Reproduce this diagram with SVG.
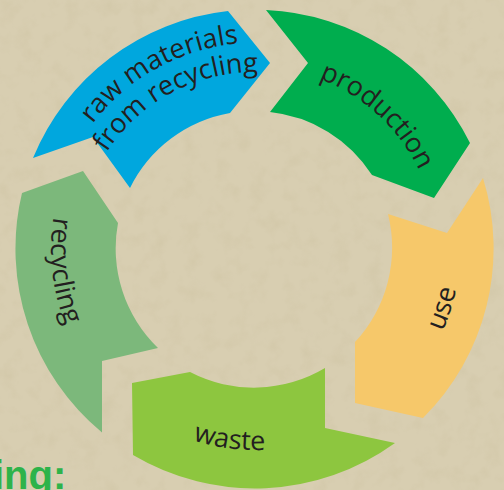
<svg xmlns="http://www.w3.org/2000/svg" width="504" height="490" viewBox="0 0 504 490">
<defs>
<style>
.lbl{font-family:"Open Sans","Noto Sans","Liberation Sans",sans-serif;font-size:27px;fill:#231f20;}
</style>
<filter id="paper" x="0" y="0" width="100%" height="100%">
<feTurbulence type="fractalNoise" baseFrequency="0.06" numOctaves="3" seed="4" result="n"/>
<feColorMatrix in="n" type="matrix" values="0 0 0 0 0.55  0 0 0 0 0.48  0 0 0 0 0.3  0 0 0 -1.4 0.75" result="c"/>
<feComposite in="c" in2="SourceGraphic" operator="in"/>
</filter>
<path id="p-raw1" d="M62.4,178.9 A207,207 0 0 1 301.1,47.3"/>
<path id="p-raw2" d="M88.6,188.4 A177,177 0 0 1 297.8,77.3"/>
<path id="p-prod" d="M255,67 A182,182 0 0 1 436.3,233.1"/>
<path id="p-use" d="M357.5,426.5 A205,205 0 0 0 440.8,162.4"/>
<path id="p-waste" d="M101,378.2 A201,201 0 0 0 370.3,413.7"/>
<path id="p-rec" d="M87.9,132 A204,204 0 0 0 118.5,400.6"/>
</defs>
<rect width="504" height="490" fill="#d8ceb1"/>
<rect width="504" height="490" fill="#d8ceb1" filter="url(#paper)" opacity="0.35"/>
<g id="connectors"/>
<g id="recycling">
<path d="M102,432.6 L102,361 L158,348 A138.5,138.5 0 0 1 118,223 L83,171 L22,193 A239,239 0 0 0 102,432.6 Z" fill="#7cb87b"/>
<text class="lbl"><textPath href="#p-rec" startOffset="50%" text-anchor="middle">recycling</textPath></text>
</g>
<g id="raw-materials">
<path d="M33,158 L93,137 L130,188 A138.5,138.5 0 0 1 230,113 L270,63 L228,11 A239,239 0 0 0 33,158 Z" fill="#00a7de"/>
<text class="lbl"><textPath href="#p-raw1" startOffset="50%" text-anchor="middle">raw materials</textPath></text>
<text class="lbl"><textPath href="#p-raw2" startOffset="50%" text-anchor="middle">from recycling</textPath></text>
</g>
<g id="production">
<path d="M266,10 L308,63 L270,112 A138.5,138.5 0 0 1 372,175 L434,198 L470,143 A239,239 0 0 0 266,10 Z" fill="#00ad4e"/>
<text class="lbl"><textPath href="#p-prod" startOffset="50%" text-anchor="middle">production</textPath></text>
</g>
<g id="use">
<path d="M483,178 L447,233 L388,214 A138.5,138.5 0 0 1 355,342 L355,403 L423,418 A239,239 0 0 0 483,178 Z" fill="#f6c86a"/>
<text class="lbl"><textPath href="#p-use" startOffset="50%" text-anchor="middle">use</textPath></text>
</g>
<g id="waste">
<path d="M395,443 L325,428 L325,368 A138.5,138.5 0 0 1 190,372 L132,383 L133,455 A239,239 0 0 0 395,443 Z" fill="#8dc63f"/>
<text class="lbl"><textPath href="#p-waste" startOffset="50%" text-anchor="middle">waste</textPath></text>
</g>
<text x="-7" y="489" font-family="'Liberation Sans',sans-serif" font-weight="bold" font-size="40" fill="#2db34a">ing:</text>
</svg>
